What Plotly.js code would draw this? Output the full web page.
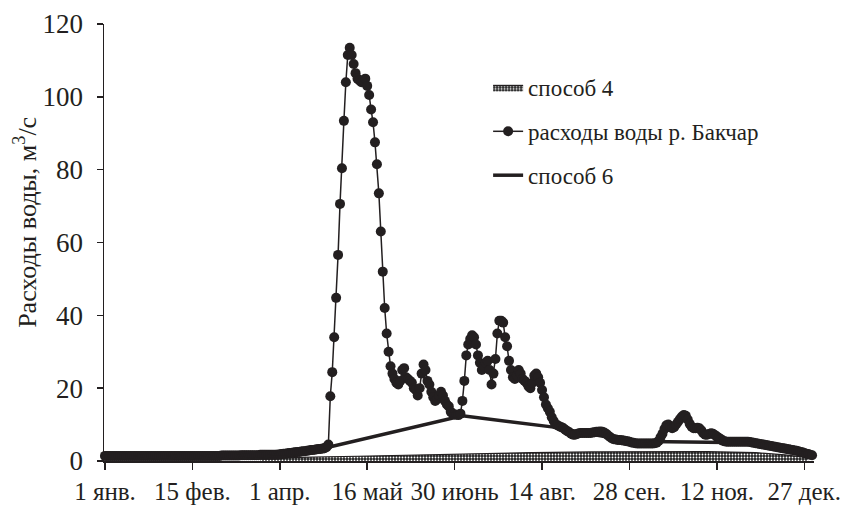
<!DOCTYPE html>
<html>
<head>
<meta charset="utf-8">
<script src="https://cdn.plot.ly/plotly-3.0.1.min.js"></script>
<style>html,body{margin:0;padding:0;background:#fff;}#chart{width:847px;height:505px;}</style>
</head>
<body>
<div id="chart"></div>
<script>
// Tick labels (day of year positions)
var tickDays = [0, 45, 90, 135, 180, 225, 270, 315, 360];
var tickLabels = ['1 янв.', '15 фев.', '1 апр.', '16 май', '30 июнь', '14 авг.', '28 сен.', '12 ноя.', '27 дек.'];
var yTicks = [0, 20, 40, 60, 80, 100, 120];
var yTitle = 'Расходы воды, м<sup>3</sup>/с';

// Daily discharge of the Bakchar river, m3/s (day 0 = 1 Jan)
var riverWinter = [
  1.4,1.4,1.4,1.4,1.4,1.4,1.4,1.4,1.4,1.4, 1.4,1.4,1.4,1.4,1.4,1.4,1.4,1.4,1.4,1.4,
  1.4,1.4,1.4,1.4,1.4,1.4,1.4,1.4,1.4,1.4, 1.4,1.4,1.4,1.4,1.4,1.4,1.4,1.4,1.4,1.4,
  1.4,1.4,1.4,1.4,1.4,1.4,1.4,1.4,1.4,1.4, 1.4,1.4,1.4,1.4,1.4,1.4,1.4,1.4,1.4,1.4,
  1.5,1.5,1.5,1.5,1.5,1.5,1.5,1.5,1.5,1.5, 1.6,1.6,1.6,1.6,1.6,1.6,1.6,1.6,1.6,1.6,
  1.7,1.7,1.7,1.7,1.7,1.7,1.7,1.7,1.7,1.7
];
var riverSpring = [
  1.8,1.9,2.0,2.0,2.1,2.2,2.2,2.3,2.4,2.5, 2.5,2.6,2.7,2.7,2.8,2.9,3.0,3.0,3.1,3.2,
  3.3,3.3,3.4,3.5,3.8
];
var riverFlood = [
  4.5,17.8,24.4,34,44.8,56.6,70.6,80.4,93.4,104,111.5,113.5,
  111.5,109,106.5,105,104.5,104,104.5,105,103,100.5,96.5,93,87.5,81.5,73.5,63,52,42,35,30,26,24,22.5
];
var riverSummer = [
  21.5,21,22,25,25.5,23,22.5,22,21.5,20,
  19.5,18,20,24,26.5,25,22,21,19,17.5,
  16.5,17,18,19,18,16.5,15.5,15,13.5,13,
  12.8,12.7,12.6,13,16.5,22,29,32,33.5,34.5,
  34,32,29,27,25,26,27,27.5,25,21,
  24,28,35,38.5,38.5,38,34,31.5,27.5,25,
  23,22.5,23.5,25,24,22.5,22,21.5,20.5,20,
  21.5,23.5,24,23,21.5,19.5,17.5,15.5,14.5,13.5,
  12,11,10
];
var riverAutumn = [
  9.8,9.5,9.3,9,8.6,8.2,7.9,
  7.5,7.2,7.2,7.4,7.6,7.7,7.7,7.7,7.7,7.7,
  7.7,7.8,7.9,8,8,8.1,8,7.8,7.5,7,
  6.6,6.2,6,5.9,5.8,5.8,5.7,5.6,5.5,5.4,
  5.3,5.1,5.0,4.9,4.8,4.8,4.8,4.8,4.8,4.8,
  4.8,4.8,4.8,4.9,5,5.5,6.5,7.5,8.8,9.8,
  10,9.3,9,9.3,10,10.8,11.5,12.2,12.6,12.4,
  11.4,10.2,9.4,9,9,9.1,9,8.4,7.6,7.2,
  7.2,7.4,7.6,7.5,7.1,6.7,6.4,6,5.6,5.4,
  5.3,5.3,5.3,5.3,5.3,5.3,5.3,5.3,5.3,5.3,5.3,5.3
];
var riverWinterEnd = [
  5.2,5.1,5.0,4.9,4.8,4.7,4.6,4.5,4.4,4.3,
  4.2,4.1,4.0,3.9,3.8,3.7,3.6,3.5,3.4,3.3,
  3.2,3.1,3.0,2.9,2.8,2.7,2.5,2.4,2.2,2.0,
  1.9,1.7,1.6
];
var riverQ = [].concat(riverWinter, riverSpring, riverFlood, riverSummer, riverAutumn, riverWinterEnd);
var riverDays = riverQ.map(function (v, i) { return i; });

// Method 4 (area)
var m4Days = [80, 100, 130, 160, 190, 220, 250, 280, 310, 335, 350, 362];
var m4Q    = [0.5, 1.0, 1.3, 1.7, 2.0, 2.3, 2.5, 2.6, 2.6, 2.3, 1.7, 0.9];

// Method 6 (line)
var m6Days = [0, 66, 115, 184, 231, 270, 330, 364];
var m6Q    = [1.5, 1.6, 3.8, 12.4, 9.3, 5.4, 5.0, 1.6];

var serif = "'Liberation Serif', 'Times New Roman', serif";
var ink = '#231f20';

var traces = [
  {
    x: m4Days, y: m4Q, type: 'scatter', mode: 'lines', name: 'способ 4',
    fill: 'tozeroy', fillcolor: '#222222',
    fillpattern: {shape: '.', size: 3, solidity: 0.3, fgcolor: '#ffffff', bgcolor: '#222222'},
    line: {color: ink, width: 1.2}, legendgroup: 'a', legendrank: 1
  },
  {
    x: m6Days, y: m6Q, type: 'scatter', mode: 'lines', name: 'способ 6',
    line: {color: ink, width: 3.5}, legendgroup: 'c', legendrank: 3
  },
  {
    x: riverDays, y: riverQ, type: 'scatter', mode: 'lines+markers', name: 'расходы воды р. Бакчар',
    line: {color: ink, width: 1.5},
    marker: {color: ink, size: 10, line: {width: 0}},
    cliponaxis: false, legendgroup: 'b', legendrank: 2
  }
];

var layout = {
  width: 847, height: 505,
  margin: {l: 104, r: 33, t: 24, b: 44},
  paper_bgcolor: '#fff', plot_bgcolor: '#fff',
  font: {family: serif, color: ink, size: 22},
  showlegend: true,
  legend: {
    x: 0.541, y: 0.904, xanchor: 'left', yanchor: 'top',
    font: {family: serif, size: 23, color: ink},
    traceorder: 'grouped', tracegroupgap: 11,
    bgcolor: 'rgba(0,0,0,0)'
  },
  xaxis: {
    range: [-0.5, 365], showgrid: false, zeroline: false,
    showline: true, linecolor: ink, linewidth: 1.5,
    ticks: 'outside', ticklen: 7, tickwidth: 1.5, tickcolor: ink,
    tickvals: tickDays, ticktext: tickLabels, tickangle: 0,
    tickfont: {family: serif, size: 25, color: ink}
  },
  yaxis: {
    range: [0, 120], showgrid: false, zeroline: false,
    showline: true, linecolor: ink, linewidth: 1.5,
    ticks: 'outside', ticklen: 6, tickwidth: 1.5, tickcolor: ink,
    tickvals: yTicks, ticklabelstandoff: 8,
    tickfont: {family: serif, size: 27, color: ink}
  },
  annotations: [{
    text: yTitle, textangle: -90, showarrow: false,
    xref: 'paper', yref: 'paper', x: -0.11, y: 0.547,
    xanchor: 'center', yanchor: 'middle',
    font: {family: serif, size: 26, color: ink}
  }]
};

Plotly.newPlot('chart', traces, layout, {displayModeBar: false, staticPlot: true});
</script>
</body>
</html>
